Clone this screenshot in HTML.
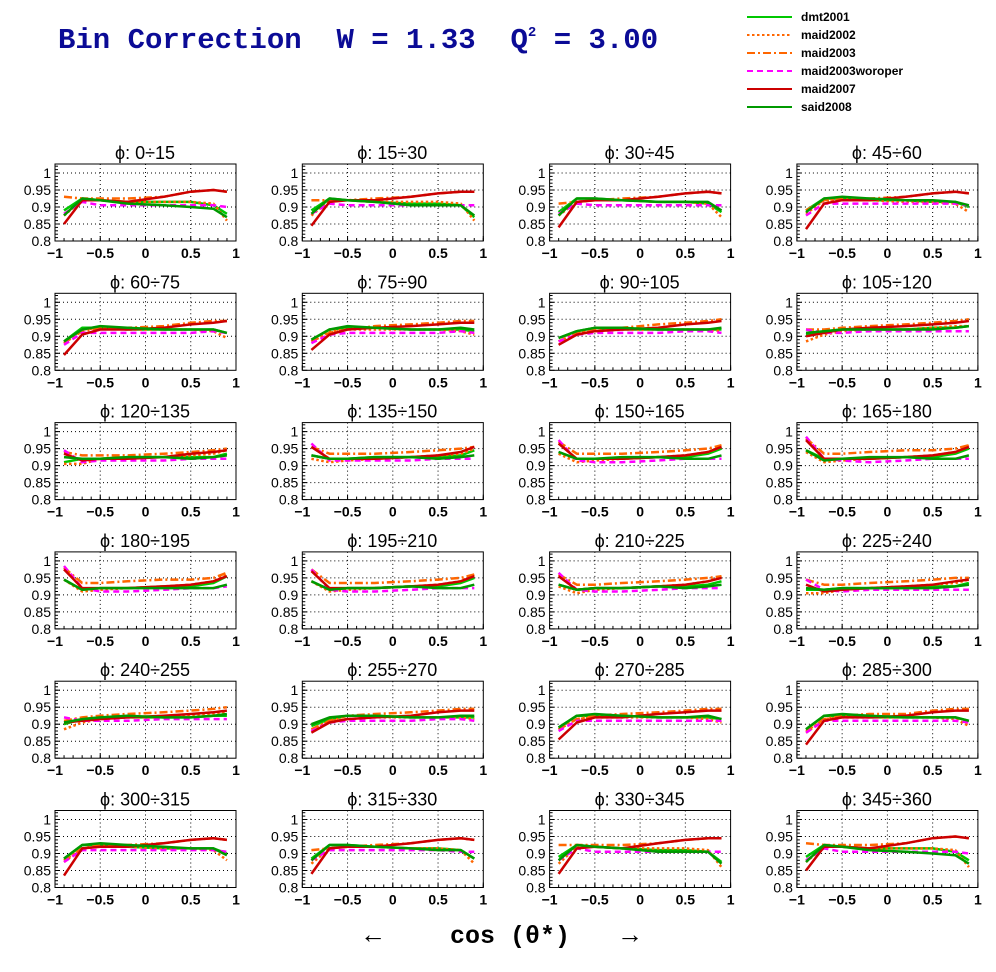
<!DOCTYPE html>
<html><head><meta charset="utf-8"><style>
html,body{margin:0;padding:0;background:#fff;}
svg{display:block;}
text{font-family:"Liberation Sans",sans-serif;}
</style></head><body>
<svg id="chart" width="996" height="972" viewBox="0 0 996 972" xmlns="http://www.w3.org/2000/svg">
<rect x="0" y="0" width="996" height="972" fill="#fff"/>
<text x="58" y="48" font-weight="bold" font-size="29" fill="#0b0b96" style="font-family:'Liberation Mono',monospace" xml:space="preserve">Bin Correction  W = 1.33  Q<tspan dy="-12" font-size="14">2</tspan><tspan dy="12"> = 3.00</tspan></text>
<g id="legend"></g>
<g id="panels"></g>
<text x="373" y="943" font-size="26" text-anchor="middle">←</text>
<text x="510" y="943" font-size="25" font-weight="bold" text-anchor="middle" style="font-family:'Liberation Mono',monospace" xml:space="preserve">cos (θ*)</text>
<text x="630" y="943" font-size="26" text-anchor="middle">→</text>
</svg>
<script>
const xs = [-0.9,-0.7,-0.5,-0.2,0.2,0.5,0.75,0.9];
const phiLabels = ["0÷15","15÷30","30÷45","45÷60","60÷75","75÷90","90÷105","105÷120","120÷135","135÷150","150÷165","165÷180","180÷195","195÷210","210÷225","225÷240","240÷255","255÷270","270÷285","285÷300","300÷315","315÷330","330÷345","345÷360"];
const yTicks = [0.8,0.85,0.9,0.95,1];
const yTickLabels = ["0.8","0.85","0.9","0.95","1"];
const xTicks = [-1,-0.5,0,0.5,1];
const xTickLabels = ["−1","−0.5","0","0.5","1"];
const seriesNames = ["dmt2001","maid2002","maid2003","maid2003woroper","maid2007","said2008"];

const dmt2001 = [
[.89,.925,.92,.915,.915,.915,.905,.88],[.89,.925,.92,.915,.91,.91,.905,.87],[.885,.925,.925,.92,.915,.915,.91,.885],[.89,.925,.925,.92,.92,.915,.915,.90],
[.885,.925,.925,.92,.92,.92,.92,.91],[.89,.92,.925,.925,.92,.92,.92,.915],[.895,.915,.925,.92,.92,.92,.92,.92],[.905,.915,.92,.92,.92,.925,.925,.93],
[.91,.92,.92,.925,.925,.925,.925,.935],[.93,.92,.92,.925,.925,.925,.93,.945],[.94,.92,.92,.92,.925,.925,.935,.95],[.945,.92,.92,.92,.925,.925,.935,.95],
[.945,.915,.92,.92,.925,.925,.935,.955],[.94,.915,.92,.92,.925,.925,.935,.95],[.93,.915,.92,.92,.925,.925,.93,.94],[.915,.915,.92,.92,.92,.925,.925,.935],
[.90,.915,.92,.92,.92,.92,.925,.925],[.895,.915,.925,.925,.92,.92,.92,.92],[.89,.925,.925,.925,.92,.92,.92,.915],[.885,.925,.925,.92,.92,.92,.92,.91],
[.885,.925,.925,.92,.915,.915,.915,.90],[.885,.925,.925,.92,.915,.915,.91,.885],[.89,.925,.92,.915,.91,.91,.905,.875],[.89,.925,.92,.915,.915,.915,.905,.88]];
const maid2002 = [
[.875,.92,.92,.915,.915,.915,.91,.86],[.875,.92,.92,.915,.915,.915,.91,.86],[.875,.915,.92,.92,.915,.915,.91,.87],[.88,.92,.92,.92,.915,.915,.91,.885],
[.88,.92,.925,.92,.92,.92,.915,.895],[.885,.915,.92,.92,.92,.92,.915,.905],[.885,.91,.915,.92,.92,.92,.92,.915],[.885,.905,.915,.92,.92,.925,.93,.93],
[.905,.905,.92,.925,.925,.93,.935,.945],[.92,.91,.915,.92,.925,.93,.935,.95],[.935,.91,.915,.92,.925,.93,.94,.955],[.94,.91,.915,.92,.925,.93,.94,.96],
[.945,.91,.915,.92,.925,.93,.94,.96],[.94,.91,.915,.92,.925,.93,.94,.96],[.925,.905,.915,.92,.925,.93,.94,.955],[.905,.905,.915,.92,.925,.93,.935,.945],
[.885,.905,.915,.92,.92,.925,.93,.935],[.88,.91,.915,.92,.92,.92,.92,.915],[.885,.915,.92,.92,.92,.92,.915,.905],[.875,.915,.92,.92,.92,.92,.915,.895],
[.875,.915,.92,.92,.915,.915,.91,.88],[.87,.915,.92,.92,.915,.915,.91,.87],[.87,.92,.92,.915,.915,.915,.91,.86],[.875,.92,.92,.915,.915,.915,.91,.86]];
const maid2003 = [
[.93,.925,.925,.925,.93,.945,.95,.945],[.92,.92,.92,.925,.93,.94,.945,.945],[.91,.915,.92,.925,.93,.94,.945,.94],[.89,.92,.925,.925,.93,.94,.945,.94],
[.88,.915,.925,.925,.93,.94,.945,.945],[.885,.91,.92,.93,.935,.94,.945,.945],[.885,.91,.92,.925,.935,.94,.945,.95],[.92,.92,.925,.93,.935,.94,.945,.95],
[.94,.93,.93,.93,.935,.94,.945,.95],[.955,.935,.935,.935,.94,.945,.95,.955],[.97,.935,.935,.935,.94,.945,.95,.96],[.98,.935,.935,.94,.945,.945,.95,.96],
[.98,.935,.935,.94,.945,.945,.95,.965],[.975,.935,.935,.935,.94,.945,.95,.96],[.96,.93,.93,.935,.94,.945,.95,.955],[.945,.93,.93,.935,.94,.945,.95,.95],
[.91,.92,.925,.93,.935,.94,.945,.95],[.885,.91,.925,.93,.935,.94,.945,.945],[.885,.915,.925,.93,.935,.94,.945,.945],[.88,.915,.925,.93,.93,.94,.945,.945],
[.88,.915,.925,.925,.93,.94,.945,.94],[.91,.915,.92,.925,.93,.94,.945,.94],[.925,.925,.925,.925,.93,.94,.945,.945],[.93,.925,.925,.925,.93,.945,.95,.945]];
const maid2003woroper = [
[.88,.915,.905,.905,.905,.905,.905,.90],[.88,.91,.905,.905,.905,.905,.905,.905],[.88,.91,.905,.905,.905,.905,.905,.905],[.875,.91,.91,.91,.91,.91,.91,.905],
[.875,.91,.91,.91,.91,.91,.915,.91],[.88,.905,.91,.91,.91,.91,.915,.91],[.885,.905,.91,.91,.91,.915,.915,.91],[.92,.91,.91,.915,.915,.915,.915,.915],
[.945,.91,.915,.915,.915,.92,.92,.92],[.965,.915,.915,.915,.915,.92,.92,.92],[.975,.915,.91,.91,.915,.92,.92,.92],[.985,.92,.915,.91,.915,.92,.92,.92],
[.985,.92,.91,.91,.915,.92,.92,.925],[.975,.915,.91,.91,.915,.92,.92,.92],[.965,.915,.91,.91,.915,.92,.92,.92],[.945,.915,.91,.915,.915,.915,.915,.915],
[.92,.91,.91,.91,.915,.915,.915,.915],[.88,.905,.91,.91,.91,.915,.915,.91],[.88,.91,.91,.91,.91,.91,.91,.91],[.875,.91,.91,.91,.91,.91,.91,.905],
[.875,.91,.91,.91,.91,.91,.91,.905],[.88,.91,.91,.91,.91,.91,.905,.905],[.88,.915,.905,.905,.905,.905,.905,.905],[.88,.915,.905,.905,.905,.905,.905,.90]];
const maid2007 = [
[.85,.92,.92,.915,.93,.945,.95,.945],[.845,.915,.92,.92,.93,.94,.945,.945],[.84,.915,.92,.92,.93,.94,.945,.94],[.835,.91,.92,.92,.93,.94,.945,.94],
[.845,.905,.92,.92,.925,.935,.94,.945],[.86,.905,.92,.925,.93,.935,.94,.94],[.875,.905,.915,.92,.925,.935,.94,.945],[.90,.91,.92,.925,.93,.935,.94,.945],
[.935,.915,.92,.92,.925,.935,.94,.945],[.955,.92,.92,.92,.925,.93,.94,.955],[.965,.92,.92,.92,.925,.93,.94,.955],[.975,.92,.92,.92,.925,.93,.94,.955],
[.975,.92,.92,.92,.925,.93,.94,.955],[.97,.92,.92,.92,.925,.93,.94,.955],[.955,.915,.92,.92,.925,.93,.94,.95],[.93,.91,.915,.92,.925,.93,.94,.945],
[.905,.91,.915,.92,.925,.93,.935,.94],[.875,.905,.915,.92,.925,.935,.94,.94],[.855,.905,.92,.92,.93,.935,.94,.94],[.84,.91,.92,.92,.925,.935,.94,.94],
[.835,.915,.92,.92,.93,.94,.945,.94],[.84,.915,.92,.92,.93,.94,.945,.94],[.84,.915,.92,.915,.93,.94,.945,.945],[.85,.92,.92,.915,.93,.945,.95,.945]];
const said2008 = [
[.875,.925,.92,.91,.905,.90,.895,.87],[.88,.925,.92,.915,.905,.905,.905,.875],[.875,.925,.925,.92,.915,.915,.915,.89],[.885,.925,.93,.925,.92,.92,.915,.905],
[.885,.92,.93,.925,.92,.92,.92,.91],[.89,.92,.93,.925,.92,.92,.925,.92],[.895,.915,.925,.925,.92,.92,.92,.925],[.91,.915,.92,.92,.92,.92,.925,.93],
[.925,.92,.92,.925,.925,.92,.925,.93],[.93,.92,.92,.925,.925,.92,.925,.93],[.94,.92,.92,.925,.925,.92,.92,.93],[.945,.915,.92,.925,.925,.92,.92,.93],
[.945,.915,.92,.92,.92,.92,.92,.93],[.94,.915,.92,.92,.925,.92,.92,.93],[.93,.915,.92,.92,.925,.92,.925,.93],[.92,.915,.92,.92,.92,.92,.925,.93],
[.905,.915,.92,.925,.92,.92,.925,.93],[.90,.92,.925,.925,.92,.92,.925,.925],[.89,.925,.93,.925,.92,.92,.925,.915],[.885,.925,.93,.925,.92,.92,.92,.91],
[.885,.925,.93,.925,.92,.915,.915,.895],[.88,.925,.925,.92,.915,.91,.91,.885],[.88,.925,.92,.915,.905,.905,.905,.87],[.875,.925,.92,.91,.905,.90,.895,.87]];

const seriesData = [dmt2001, maid2002, maid2003, maid2003woroper, maid2007, said2008];
const seriesColors = ["#00c800","#ff6600","#ff6600","#ff00ff","#cc0000","#009900"];
const seriesDash = ["","2.5,2.5","8,3,2,3","6,4","",""];

const NS = "http://www.w3.org/2000/svg";
function mk(tag, attrs, parent){
  const e = document.createElementNS(NS, tag);
  for (const k in attrs) e.setAttribute(k, attrs[k]);
  parent.appendChild(e);
  return e;
}
const PX0 = 55, PDX = 247.3, PY0 = 164, PDY = 129.3, PW = 181, PH = 77;
const YMIN = 0.8, YMAX = 0.8 + PH/340;
const panelsG = document.getElementById('panels');

for (let p = 0; p < 24; p++) {
  const col = p % 4, row = Math.floor(p / 4);
  const L = PX0 + col*PDX, T = PY0 + row*PDY;
  const xScale = v => L + (v + 1) / 2 * PW;
  const yScale = v => T + PH - (v - YMIN) / (YMAX - YMIN) * PH;
  const g = mk('g', {}, panelsG);
  
  
  const t = mk('text', {x: L + 90, y: T - 5, 'font-size': 18, 'text-anchor': 'middle'}, g);
  t.textContent = 'ϕ: ' + (p < 2 ? ' ' : '') + phiLabels[p];
  
  
  for (const v of [-0.5, 0, 0.5]) {
    const gl = mk('line', {x1: xScale(v), x2: xScale(v), y1: T, y2: T+PH, stroke: '#000', 'stroke-width': 1, 'stroke-dasharray': '1,3'}, g);
    
    
  }
  for (const v of yTicks.slice(1)) {
    const gl = mk('line', {x1: L, x2: L+PW, y1: yScale(v), y2: yScale(v), stroke: '#000', 'stroke-width': 1, 'stroke-dasharray': '1,3'}, g);
    
    
  }
  yTicks.forEach((v, i) => {
    mk('line', {x1: L, x2: L+5, y1: yScale(v), y2: yScale(v), stroke: '#000'}, g);
    const lb = mk('text', {x: L - 4, y: yScale(v) + 5, 'font-size': 14, 'text-anchor': 'end'}, g);
    lb.textContent = yTickLabels[i];
    
    
  });
  for (let v = 0.81; v < YMAX; v += 0.01) {
    mk('line', {x1: L, x2: L+3, y1: yScale(v), y2: yScale(v), stroke: '#000'}, g);
  }
  xTicks.forEach((v, i) => {
    mk('line', {x1: xScale(v), x2: xScale(v), y1: T+PH, y2: T+PH-5, stroke: '#000'}, g);
    const lb = mk('text', {x: xScale(v), y: T + PH + 17, 'font-size': 14, 'font-weight': 'bold', 'text-anchor': 'middle'}, g);
    lb.textContent = xTickLabels[i];
    
    
  });
  for (let v = -0.9; v < 1; v += 0.1) {
    mk('line', {x1: xScale(v), x2: xScale(v), y1: T+PH, y2: T+PH-3, stroke: '#000'}, g);
  }
  seriesData.forEach((arr, s) => {
    const vals = arr[p];
    const d = xs.map((x, i) => (i ? 'L' : 'M') + xScale(x).toFixed(1) + ' ' + yScale(vals[i]).toFixed(1)).join(' ');
    const a = {d: d, fill: 'none', stroke: seriesColors[s], 'stroke-width': 2.5, 'stroke-linejoin': 'round'};
    if (seriesDash[s]) a['stroke-dasharray'] = seriesDash[s];
    const path = mk('path', a, g);
    
    
  });
  const fr = mk('rect', {x: L, y: T, width: PW, height: PH, fill: 'none', stroke: '#000', 'stroke-width': 1}, g);
  
  
}

const legendG = document.getElementById('legend');
seriesNames.forEach((n, s) => {
  const y = 17 + s * 18;
  const a = {x1: 747, x2: 792, y1: y, y2: y, stroke: seriesColors[s], 'stroke-width': 2};
  if (seriesDash[s]) a['stroke-dasharray'] = seriesDash[s];
  const ln = mk('line', a, legendG);
  
  
  const tx = mk('text', {x: 801, y: y + 4, 'font-size': 12, 'font-weight': 'bold'}, legendG);
  tx.textContent = n;
  
  
});
</script>
</body></html>
